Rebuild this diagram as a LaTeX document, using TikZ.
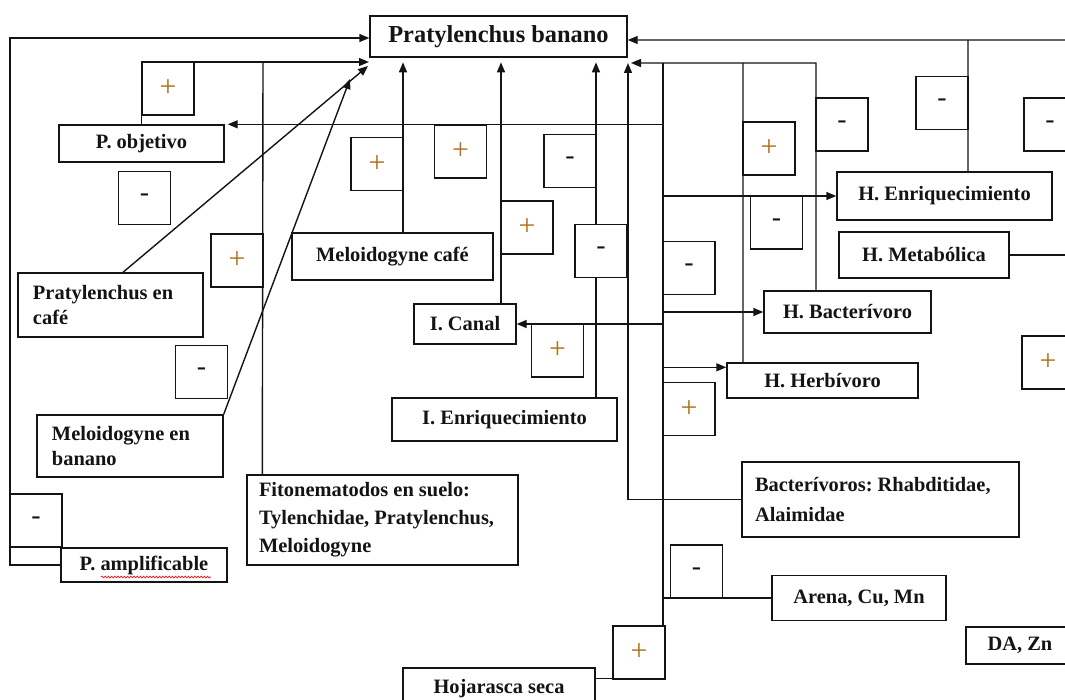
\documentclass[tikz,border=0pt]{standalone}
\usepackage{fontspec}
\setmainfont{Liberation Serif}
\usetikzlibrary{arrows.meta,decorations.pathmorphing}
\pgfdeclarelayer{bg}
\pgfsetlayers{bg,main}
\definecolor{plusc}{RGB}{175,115,25}
\definecolor{ink}{RGB}{20,20,20}
\DeclareRobustCommand\tsp{\frenchspacing\spaceskip=0.25em\relax\xspaceskip=0.25em\relax}
\begin{document}
\begin{tikzpicture}[x=1bp,y=-1bp,
  lbl/.style={draw=ink, line width=1.4bp, fill=white, inner sep=0pt, text=ink,
              font=\bfseries\fontsize{20.5}{25}\selectfont},
  ttl/.style={lbl, font=\bfseries\fontsize{24.5}{28}\selectfont},
  lbll/.style={lbl, align=left},
  sgn/.style={draw=ink, line width=1.4bp, fill=white, inner sep=0pt,
              minimum width=52bp, minimum height=53bp},
  pl/.style={sgn, text=plusc, font=\fontsize{30}{30}\selectfont},
  mi/.style={sgn, text=ink, font=\fontsize{28}{28}\selectfont},
  con/.style={draw=ink, line width=1.4bp},
  arr/.style={con, -{Triangle[length=10bp,width=8bp]}},
]
\useasboundingbox (0,0) rectangle (1065,700);
\clip (0,0) rectangle (1065,700);

% ---------- label boxes ----------
\node[ttl, minimum width=257bp, minimum height=41bp] (PB) at (498.5,36.5) {Pratylenchus banano};
\node[lbl, minimum width=165bp, minimum height=37bp] (Pobj) at (141.5,143.5) {P. objetivo};
\node[lbll, inner xsep=15bp, text width=155bp, minimum height=64bp] (Pcafe) at (110.5,305) {\tsp Pratylenchus en\\café};
\node[lbll, inner xsep=15bp, text width=156bp, minimum height=62bp] (Mban) at (130,446) {\tsp Meloidogyne en\\banano};
\node[lbl, minimum width=201bp, minimum height=47bp] (Mcafe) at (392.5,256.5) {Meloidogyne café};
\node[lbll, inner xsep=12bp, text width=247bp, minimum height=90bp,
      font=\bfseries\fontsize{20.5}{28}\selectfont] (Fito) at (382.5,520)
      {\tsp Fitonematodos en suelo:\\Tylenchidae, Pratylenchus,\\Meloidogyne};
\node[lbl, minimum width=166bp, minimum height=34bp] (Pampl) at (144,565) {P. amplificable};
\node[lbl, minimum width=102bp, minimum height=40bp] (ICanal) at (465,324) {I. Canal};
\node[lbl, minimum width=225bp, minimum height=43bp] (IEnr) at (504.5,419.5) {I. Enriquecimiento};
\node[lbl, minimum width=215bp, minimum height=48bp] (HEnr) at (944.5,196) {H. Enriquecimiento};
\node[lbl, minimum width=170bp, minimum height=46bp] (HMet) at (924,255) {H. Metabólica};
\node[lbl, minimum width=167bp, minimum height=42bp] (HBac) at (847.5,312) {H. Bacterívoro};
\node[lbl, minimum width=191bp, minimum height=35bp] (HHer) at (822.5,380.5) {H. Herbívoro};
\node[lbll, inner xsep=13bp, text width=251bp, minimum height=75bp,
      font=\bfseries\fontsize{20.5}{31}\selectfont] (Bact) at (880.5,499.5)
      {\tsp Bacterívoros: Rhabditidae,\\Alaimidae};
\node[lbl, minimum width=174bp, minimum height=45bp] (Arena) at (859,598) {Arena, Cu, Mn};
\node[lbl, minimum width=108bp, minimum height=37bp] (DAZn) at (1020,645.5) {DA, Zn};
\node[lbl, minimum width=192bp, minimum height=42bp] (Hoja) at (499,689) {Hojarasca seca};

% ---------- sign boxes ----------
\node[pl] (s1) at (168,88.5) {+};
\node[mi] (s2) at (144.5,198) {-};
\node[pl] (s3) at (377,164) {+};
\node[pl] (s4) at (460.5,151.5) {+};
\node[mi] (s5) at (570,161) {-};
\node[pl] (s6) at (527,227.5) {+};
\node[mi] (s7) at (601,251) {-};
\node[pl] (s8) at (557.5,350.5) {+};
\node[mi] (s9) at (689,268) {-};
\node[pl] (s10) at (689,409) {+};
\node[pl] (s11) at (769,148.5) {+};
\node[mi] (s12) at (776.5,222.5) {-};
\node[mi] (s13) at (842,124.5) {-};
\node[mi] (s14) at (942,103) {-};
\node[mi] (s15) at (1050,124.5) {-};
\node[pl] (s16) at (1048,362.5) {+};
\node[pl] (s17) at (237,260.5) {+};
\node[mi] (s18) at (201.5,372) {-};
\node[mi] (s19) at (36,520.5) {-};
\node[mi] (s20) at (696.5,571.5) {-};
\node[pl] (s21) at (639,652.5) {+};

% spell-check underline
\draw[red, line width=0.6bp, decorate,
      decoration={snake, amplitude=0.9bp, segment length=3.2bp}] (101,577) -- (211,577);

% ---------- connectors ----------
\begin{pgfonlayer}{bg}
\coordinate (pbL) at (369,62);
\coordinate (pbR) at (631,63);
\coordinate (trunk) at (663,63);
\coordinate (hh) at ([yshift=-5bp]HHer.north west);
\coordinate (edgeTop) at (1070,40);
\coordinate (edgeMet) at (1070,255);

% left loop
\draw[arr] (Pampl.west) -| (10,38) -- ([yshift=-1.5bp]PB.west);
% into PB lower-left corner
\draw[arr] (Pobj.north) |- (pbL);
\draw[con] ([xshift=16bp]Fito.north west) -- (263,62);
\draw[arr] ([xshift=12.5bp]Pcafe.north) -- (368,66);
\draw[arr] (Mban.north east) -- (350,79);
% verticals into PB bottom
\draw[arr] ([xshift=10.5bp]Mcafe.north) -- ++(0,-170);
\draw[arr] ([xshift=36bp]ICanal.north) -- ++(0,-241);
\draw[arr] ([xshift=91.5bp]IEnr.north) -- ++(0,-335);
\draw[arr] (Bact.west) -| (628,63);
% right group into PB lower-right corner
\draw[arr] ([xshift=-31.5bp]HBac.north) -- (816,63) -- (pbR);
\draw[con] ([xshift=-79.5bp]HHer.north) -- (743,63);
\draw[con] ([yshift=-11bp]Hoja.north east) -| (trunk);
% branches from trunk
\draw[arr] (Pobj.north east -| trunk) -- ([xshift=3bp]Pobj.north east);
\draw[arr] (HEnr.west -| trunk) -- (HEnr.west);
\draw[arr] (ICanal.east -| trunk) -- (ICanal.east);
\draw[arr] (HBac.west -| trunk) -- (HBac.west);
\draw[arr] (hh -| trunk) -- (hh);
\draw[con] (Arena.west -| trunk) -- (Arena.west);
% top right
\draw[arr] (edgeTop) -- ([yshift=-3.5bp]PB.east);
\draw[con] ([xshift=23.5bp]HEnr.north) -- (968,40);
\draw[con] (HMet.east) -- (edgeMet);
\end{pgfonlayer}
\end{tikzpicture}
\end{document}
